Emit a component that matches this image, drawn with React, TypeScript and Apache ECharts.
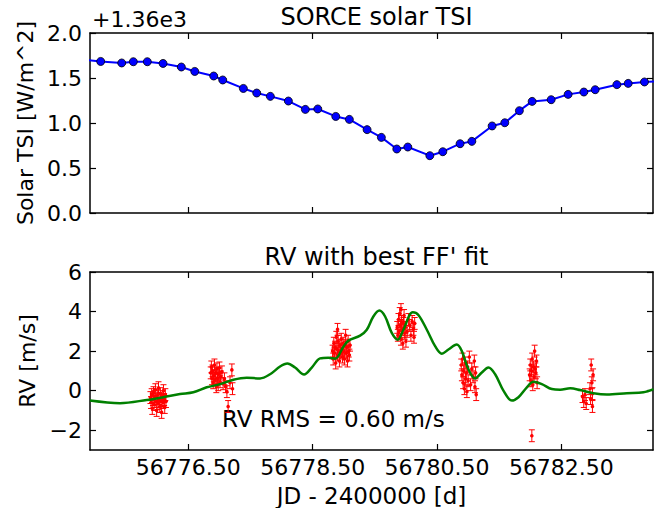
import React, { useEffect, useRef } from "react";
import * as echarts from "echarts";

const X_MIN = 56774.918;
const X_MAX = 56783.974;
const X_TICKS = [56776.5, 56778.5, 56780.5, 56782.5];

const TSI_DAYS = [
  56774.7, 56775.09, 56775.428, 56775.615, 56775.84, 56776.093, 56776.387, 56776.603,
  56776.908, 56777.053, 56777.385, 56777.6, 56777.819, 56778.109, 56778.382, 56778.582,
  56778.871, 56779.09, 56779.375, 56779.605, 56779.853, 56780.03, 56780.384, 56780.593,
  56780.871, 56781.06, 56781.386, 56781.59, 56781.825, 56782.03, 56782.336, 56782.609,
  56782.862, 56783.044, 56783.393, 56783.575, 56783.837, 56784.2,
];
const TSI_VALUES = [
  1.71, 1.684, 1.667, 1.681, 1.681, 1.662, 1.622, 1.573,
  1.522, 1.478, 1.384, 1.333, 1.296, 1.244, 1.151, 1.156,
  1.073, 1.04, 0.926, 0.84, 0.711, 0.733, 0.637, 0.681,
  0.77, 0.796, 0.967, 1.003, 1.137, 1.24, 1.259, 1.318,
  1.344, 1.37, 1.426, 1.44, 1.456, 1.47,
];

const FIT_DAYS = [
  56774.918, 56775.401, 56775.83, 56776.097, 56776.366, 56776.58, 56776.796, 56777.01,
  56777.224, 56777.439, 56777.653, 56777.814, 56777.975, 56778.093, 56778.217, 56778.361,
  56778.485, 56778.619, 56778.752, 56778.86, 56778.994, 56779.074, 56779.262, 56779.37,
  56779.476, 56779.573, 56779.665, 56779.772, 56779.869, 56779.959, 56780.11, 56780.2,
  56780.336, 56780.469, 56780.577, 56780.683, 56780.818, 56780.899, 56781.005, 56781.113,
  56781.221, 56781.327, 56781.435, 56781.568, 56781.703, 56781.81, 56781.945, 56782.051,
  56782.186, 56782.347, 56782.481, 56782.642, 56782.802, 56783.016, 56783.232, 56783.554,
  56783.82, 56783.981,
];
const FIT_VALUES = [
  -0.5, -0.63, -0.47, -0.33, -0.17, -0.08, 0.17, 0.33,
  0.55, 0.65, 0.62, 0.83, 1.22, 1.37, 1.17, 0.82,
  1.17, 1.63, 1.67, 1.62, 2.22, 2.53, 2.78, 3.08,
  3.75, 4.05, 3.75, 2.92, 2.58, 3.08, 3.97, 3.83,
  3.08, 2.25, 1.87, 2.08, 2.33, 2.0, 1.08, 0.62,
  0.92, 1.17, 0.83, 0.0, -0.5, -0.33, 0.17, 0.45,
  0.33, 0.08, 0.05, 0.12, 0.03, -0.13, -0.2, -0.13,
  -0.08, 0.08,
];

const RV_DAYS = [
  56775.89, 56775.9, 56775.91, 56775.92, 56775.93, 56775.94, 56775.95, 56775.96, 56775.97, 56775.98,
  56775.99, 56776.0, 56776.01, 56776.02, 56776.03, 56776.04, 56776.05, 56776.06, 56776.07, 56776.08,
  56776.09, 56776.1, 56776.11, 56776.12, 56776.13, 56776.14,
  56776.86, 56776.87, 56776.88, 56776.89, 56776.9, 56776.91, 56776.92, 56776.93, 56776.94, 56776.95,
  56776.96, 56776.97, 56776.98, 56776.99, 56777.0, 56777.01, 56777.02, 56777.04, 56777.06, 56777.08,
  56777.1, 56777.12, 56777.14, 56777.17, 56777.2, 56777.21,
  56778.82, 56778.83, 56778.84, 56778.85, 56778.86, 56778.87, 56778.88, 56778.89, 56778.9, 56778.91,
  56778.92, 56778.93, 56778.94, 56778.95, 56778.96, 56778.97, 56778.98, 56778.99, 56779.0, 56779.01,
  56779.02, 56779.03, 56779.04, 56779.05, 56779.06, 56779.07, 56779.08, 56779.09, 56779.1, 56778.9,
  56779.86, 56779.87, 56779.88, 56779.89, 56779.9, 56779.91, 56779.92, 56779.93, 56779.94, 56779.95,
  56779.96, 56779.97, 56779.98, 56779.99, 56780.0, 56780.02, 56780.04, 56780.06, 56780.08, 56780.1,
  56780.12, 56780.13, 56780.14, 56779.92,
  56780.89, 56780.9, 56780.91, 56780.92, 56780.93, 56780.94, 56780.95, 56780.96, 56780.97, 56780.98,
  56780.99, 56781.0, 56781.02, 56781.04, 56781.06, 56781.08, 56781.1, 56781.11, 56781.12, 56781.13,
  56781.99, 56782.0, 56782.01, 56782.02, 56782.03, 56782.04, 56782.05, 56782.06, 56782.07, 56782.08,
  56782.09, 56782.1, 56782.11, 56782.025,
  56782.84, 56782.86, 56782.88, 56782.9, 56782.96, 56782.97, 56782.98, 56782.99, 56783.0, 56783.01,
  56783.0,
];
const RV_VALUES = [
  -0.35, -0.6, -0.2, -0.9, -0.45, -0.1, -0.7, -0.3, 0.05, -0.55,
  -1.0, -0.25, -0.65, 0.15, -0.4, -0.8, -0.15, -0.5, -1.1, -0.3,
  -0.6, 0.0, -0.45, -0.85, -0.2, -0.55,
  0.9, 1.2, 0.6, 1.0, 0.4, 0.75, 1.3, 0.55, 0.9, 0.2,
  1.1, 0.65, 0.3, 0.85, 1.15, 0.45, 0.7, 0.95, 0.35, 0.6,
  0.2, -0.05, -0.8, 0.4, 1.05, 0.1,
  2.0, 1.6, 2.4, 1.9, 2.2, 1.4, 2.7, 2.1, 1.8, 2.5,
  2.0, 1.5, 2.3, 1.9, 2.6, 2.1, 1.7, 2.4, 2.0, 1.6,
  2.3, 2.8, 1.9, 2.2, 1.5, 2.5, 2.0, 1.8, 2.3, 3.1,
  3.2, 2.8, 3.6, 3.0, 3.9, 3.3, 2.6, 3.5, 3.1, 2.4,
  3.4, 3.8, 2.9, 3.2, 2.5, 3.0, 3.6, 3.3, 2.8, 3.5,
  3.1, 2.7, 3.4, 4.1,
  1.3, 0.8, 1.6, 0.4, 1.0, 0.1, 1.4, 0.6, 0.9, -0.05,
  1.2, 0.5, 1.7, 0.3, 1.1, 0.7, 1.5, 0.2, 0.9, -0.2,
  0.8, 1.3, 0.5, 1.0, 1.6, 0.3, 1.2, 0.7, 2.0, 1.1,
  0.9, 1.5, 0.4, -2.28,
  -0.3, -0.55, -0.2, -0.65, 0.1, -0.4, 1.3, 0.4, -0.8, 0.8,
  -0.15,
];
const RV_ERR = 0.3;

const RV_TICKS = [-2, 0, 2, 4, 6];

const FONT = "DejaVu Sans";
const FS = 22;
const AXIS_COLOR = "#000";

export default function App() {
  const ref = useRef<HTMLDivElement>(null);
  useEffect(() => {
    if (!ref.current) return;
    const chart = echarts.init(ref.current, null, { renderer: "svg" });

    const axisLineStyle = { show: true, onZero: false, lineStyle: { color: AXIS_COLOR, width: 1.5 } };
    const tickStyle = { show: true, inside: true, length: 6, lineStyle: { color: AXIS_COLOR, width: 1.2 } };
    const fmtX = (v: number) => v.toFixed(2);

    const xBase = {
      type: "value" as const,
      min: X_MIN,
      max: X_MAX,
      splitLine: { show: false },
      axisLine: axisLineStyle,
    };

    const tsiData = TSI_DAYS.map((d, i) => [d, TSI_VALUES[i]]);
    const fitData = FIT_DAYS.map((d, i) => [d, FIT_VALUES[i]]);
    const rvData = RV_DAYS.map((d, i) => [d, RV_VALUES[i], RV_ERR]);

    chart.setOption({
      animation: false,
      backgroundColor: "#fff",
      textStyle: { fontFamily: FONT },
      title: [
        {
          text: "SORCE solar TSI",
          left: 371.5,
          textAlign: "center",
          top: 0,
          textStyle: { fontFamily: FONT, fontSize: 24, fontWeight: "normal", color: "#000" },
        },
        {
          text: "RV with best FF' fit",
          left: 371.5,
          textAlign: "center",
          top: 240,
          textStyle: { fontFamily: FONT, fontSize: 24, fontWeight: "normal", color: "#000" },
        },
      ],
      grid: [
        { left: 90, width: 563, top: 33, height: 180 },
        { left: 90, width: 563, top: 272, height: 180 },
      ],
      xAxis: [
        {
          ...xBase,
          gridIndex: 0,
          position: "bottom",
          axisTick: { ...tickStyle, customValues: X_TICKS },
          axisLabel: { show: false },
        },
        {
          ...xBase,
          gridIndex: 0,
          position: "top",
          axisTick: { ...tickStyle, customValues: X_TICKS },
          axisLabel: { show: false },
        },
        {
          ...xBase,
          gridIndex: 1,
          position: "bottom",
          axisTick: { ...tickStyle, customValues: X_TICKS },
          axisLabel: {
            show: true,
            customValues: X_TICKS,
            formatter: fmtX,
            fontFamily: FONT,
            fontSize: FS,
            color: "#000",
            margin: 6,
          },
          name: "JD - 2400000 [d]",
          nameLocation: "middle",
          nameGap: 34,
          nameTextStyle: { fontFamily: FONT, fontSize: 23, color: "#000" },
        },
        {
          ...xBase,
          gridIndex: 1,
          position: "top",
          axisTick: { ...tickStyle, customValues: X_TICKS },
          axisLabel: { show: false },
        },
      ],
      yAxis: [
        {
          type: "value",
          gridIndex: 0,
          position: "left",
          min: 0,
          max: 2,
          interval: 0.5,
          splitLine: { show: false },
          axisLine: axisLineStyle,
          axisTick: tickStyle,
          axisLabel: {
            formatter: (v: number) => v.toFixed(1),
            fontFamily: FONT,
            fontSize: FS,
            color: "#000",
            margin: 8,
          },
          name: "Solar TSI [W/m^2]",
          nameLocation: "middle",
          nameGap: 49,
          nameTextStyle: { fontFamily: FONT, fontSize: FS, color: "#000" },
        },
        {
          type: "value",
          gridIndex: 0,
          position: "right",
          min: 0,
          max: 2,
          interval: 0.5,
          splitLine: { show: false },
          axisLine: axisLineStyle,
          axisTick: tickStyle,
          axisLabel: { show: false },
        },
        {
          type: "value",
          gridIndex: 1,
          position: "left",
          min: -3,
          max: 6,
          splitLine: { show: false },
          axisLine: axisLineStyle,
          axisTick: { ...tickStyle, customValues: RV_TICKS },
          axisLabel: {
            customValues: RV_TICKS,
            formatter: (v: number) => (v < 0 ? "\u2212" + Math.abs(v) : String(v)),
            fontFamily: FONT,
            fontSize: FS,
            color: "#000",
            margin: 8,
          },
          name: "RV [m/s]",
          nameLocation: "middle",
          nameGap: 49,
          nameTextStyle: { fontFamily: FONT, fontSize: FS, color: "#000" },
        },
        {
          type: "value",
          gridIndex: 1,
          position: "right",
          min: -3,
          max: 6,
          splitLine: { show: false },
          axisLine: axisLineStyle,
          axisTick: { ...tickStyle, customValues: RV_TICKS },
          axisLabel: { show: false },
        },
      ],
      series: [
        {
          type: "line",
          xAxisIndex: 0,
          yAxisIndex: 0,
          data: tsiData,
          symbol: "circle",
          symbolSize: 8,
          clip: true,
          lineStyle: { color: "#0000ff", width: 2 },
          itemStyle: { color: "#0000ff", borderColor: "#000", borderWidth: 0.8 },
          z: 3,
        },
        {
          type: "custom",
          xAxisIndex: 2,
          yAxisIndex: 2,
          data: rvData,
          clip: true,
          z: 2,
          renderItem: (params: any, api: any) => {
            const x = api.value(0);
            const y = api.value(1);
            const e = api.value(2);
            const c = api.coord([x, y]);
            const t = api.coord([x, y + e]);
            const b = api.coord([x, y - e]);
            const red = "#ff0000";
            return {
              type: "group",
              children: [
                { type: "line", shape: { x1: c[0], y1: t[1], x2: c[0], y2: b[1] }, style: { stroke: red, lineWidth: 1 } },
                { type: "line", shape: { x1: c[0] - 3, y1: t[1], x2: c[0] + 3, y2: t[1] }, style: { stroke: red, lineWidth: 1 } },
                { type: "line", shape: { x1: c[0] - 3, y1: b[1], x2: c[0] + 3, y2: b[1] }, style: { stroke: red, lineWidth: 1 } },
                { type: "circle", shape: { cx: c[0], cy: c[1], r: 1.8 }, style: { fill: red } },
              ],
            };
          },
        },
        {
          type: "line",
          xAxisIndex: 2,
          yAxisIndex: 2,
          data: fitData,
          symbol: "none",
          smooth: 0.35,
          clip: true,
          lineStyle: { color: "#008000", width: 2.5 },
          z: 3,
        },
      ],
      graphic: [
        {
          type: "text",
          left: 92,
          top: 8,
          style: { text: "+1.36e3", fontFamily: FONT, fontSize: FS, fill: "#000" },
        },
        {
          type: "text",
          left: 222,
          top: 407,
          style: { text: "RV RMS = 0.60 m/s", fontFamily: FONT, fontSize: 23, fill: "#000" },
        },
      ],
    });
    return () => chart.dispose();
  }, []);
  return <div ref={ref} style={{ width: 660, height: 508, position: "absolute", left: 0, top: 0 }} />;
}
